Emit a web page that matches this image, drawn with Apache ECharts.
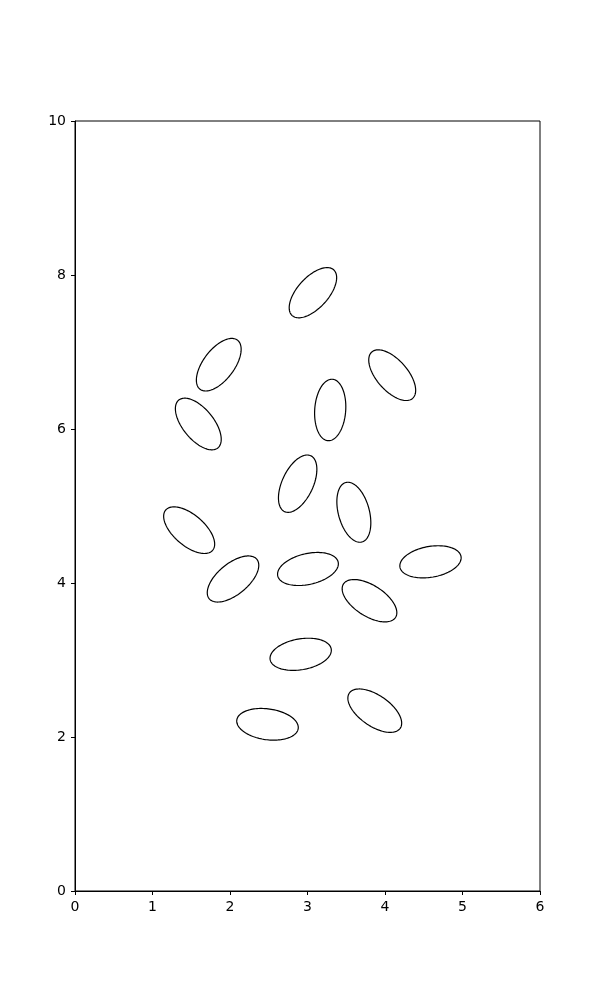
<!DOCTYPE html>
<html>
<head>
<meta charset="utf-8">
<script src="https://cdn.jsdelivr.net/npm/echarts@6/dist/echarts.min.js"></script>
<style>html,body{margin:0;padding:0;background:#fff;}#chart{width:600px;height:1000px;}</style>
</head>
<body>
<div id="chart"></div>
<script>
var xTicks = [0, 1, 2, 3, 4, 5, 6];
var yTicks = [0, 2, 4, 6, 8, 10];
var centerX = [3.07, 1.855, 4.093, 1.591, 3.293, 2.873, 3.598, 1.473, 2.039, 3.006, 4.587, 3.80, 2.912, 2.484, 3.868];
var centerY = [7.77, 6.835, 6.699, 6.065, 6.247, 5.29, 4.919, 4.686, 4.052, 4.182, 4.275, 3.77, 3.074, 2.165, 2.342];
var angles = [48, 53, -49, -51, 86, 65, -75, -41, 40, 13, 10, -33, 10, -8, -35];
var widths = [0.8, 0.8, 0.8, 0.8, 0.8, 0.8, 0.8, 0.8, 0.8, 0.8, 0.8, 0.8, 0.8, 0.8, 0.8];
var heights = [0.4, 0.4, 0.4, 0.4, 0.4, 0.4, 0.4, 0.4, 0.4, 0.4, 0.4, 0.4, 0.4, 0.4, 0.4];

var data = centerX.map(function (x, i) {
  return [x, centerY[i], widths[i], heights[i], angles[i]];
});

var chart = echarts.init(document.getElementById('chart'), null, {renderer: 'canvas'});
var labelStyle = {color: '#000', fontFamily: 'DejaVu Sans', fontSize: 14};
chart.setOption({
  animation: false,
  backgroundColor: '#fff',
  grid: {left: 75, right: 60, top: 121, bottom: 109, show: true, borderColor: '#000', borderWidth: 1, backgroundColor: 'transparent'},
  xAxis: {
    type: 'value', min: 0, max: 6, interval: 1,
    splitLine: {show: false},
    axisLine: {show: true, onZero: false, lineStyle: {color: '#000', width: 1}},
    axisTick: {show: true, inside: false, length: 4, lineStyle: {color: '#000'}},
    axisLabel: Object.assign({}, labelStyle, {margin: 9, formatter: function (v) { return xTicks.indexOf(v) >= 0 ? String(v) : ''; }})
  },
  yAxis: {
    type: 'value', min: 0, max: 10, interval: 2,
    splitLine: {show: false},
    axisLine: {show: true, onZero: false, lineStyle: {color: '#000', width: 1}},
    axisTick: {show: true, inside: false, length: 4, lineStyle: {color: '#000'}},
    axisLabel: Object.assign({}, labelStyle, {margin: 9, formatter: function (v) { return yTicks.indexOf(v) >= 0 ? String(v) : ''; }})
  },
  series: [{
    type: 'custom',
    coordinateSystem: 'cartesian2d',
    data: data,
    encode: {x: 0, y: 1},
    renderItem: function (params, api) {
      var cx = api.value(0), cy = api.value(1), w = api.value(2), h = api.value(3);
      var th = api.value(4) * Math.PI / 180;
      var c = Math.cos(th), s = Math.sin(th);
      var pts = [];
      var n = 120;
      for (var k = 0; k < n; k++) {
        var t = 2 * Math.PI * k / n;
        var ex = w / 2 * Math.cos(t), ey = h / 2 * Math.sin(t);
        pts.push(api.coord([cx + ex * c - ey * s, cy + ex * s + ey * c]));
      }
      return {
        type: 'polygon',
        shape: {points: pts},
        style: {fill: null, stroke: '#000', lineWidth: 1.2}
      };
    }
  }]
});
</script>
</body>
</html>
